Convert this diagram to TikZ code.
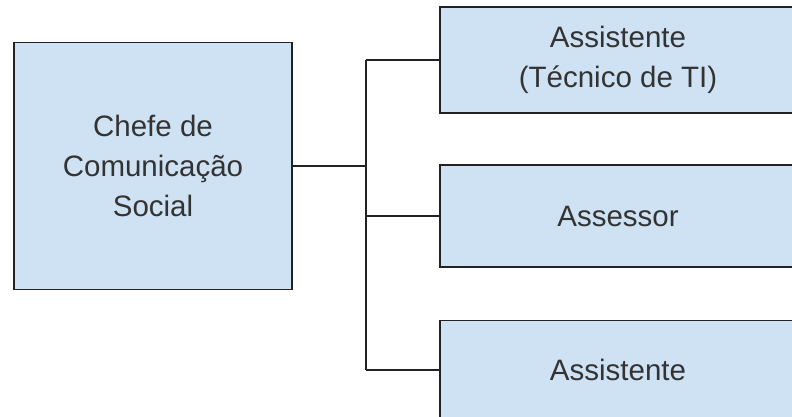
\documentclass[tikz,border=0pt]{standalone}
\usepackage{fontspec}
\setmainfont{Liberation Sans}
\usepackage{tikz}
\usetikzlibrary{calc}

\definecolor{caixa}{HTML}{CFE2F3}
\definecolor{linha}{HTML}{222222}

\begin{document}
\begin{tikzpicture}[x=1pt,y=-1pt,
  font=\fontsize{29.5}{40}\selectfont,
  every node/.style={draw=linha,fill=caixa,line width=1.3pt,align=center,
    inner sep=0pt,text=black!80},
  cargo/.style={minimum width=356pt},
  liga/.style={draw=linha,line width=1.3pt}]
  \useasboundingbox (0,0) rectangle (792,416);
  \clip (0,0) rectangle (792,416);
  \node[minimum width=278pt,minimum height=247pt] (chefe) at (153,166)
    {Chefe de\\Comunicação\\Social};
  \node[cargo,minimum height=106pt] (tecnico) at (618,60)
    {Assistente\\(Técnico de TI)};
  \node[cargo,minimum height=102pt] (assessor) at (618,216) {Assessor};
  \node[cargo,minimum height=99pt] (assist) at (618,370) {Assistente};
  \coordinate (tronco) at (366,0);
  % ligacoes
  \draw[liga] (chefe.east) -- (chefe.east -| tronco);
  \draw[liga] (tecnico.west -| tronco) -- (assist.west -| tronco);
  \draw[liga] (tecnico.west -| tronco) -- (tecnico.west);
  \draw[liga] (assessor.west -| tronco) -- (assessor.west);
  \draw[liga] (assist.west -| tronco) -- (assist.west);
\end{tikzpicture}
\end{document}
